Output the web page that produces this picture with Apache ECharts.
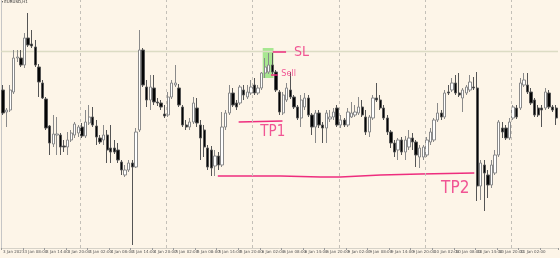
<!DOCTYPE html>
<html><head><meta charset="utf-8">
<script src="https://cdn.jsdelivr.net/npm/echarts@6/dist/echarts.min.js"></script>
<style>html,body{margin:0;padding:0;background:#fdf5e8}#c{width:560px;height:258px}</style>
</head><body><div id="c"></div>
<script>
const tickLabels = ["3 Jan 2023","3 Jan 08:00","3 Jan 14:00","3 Jan 20:00","4 Jan 02:00","4 Jan 08:00","4 Jan 14:00","4 Jan 20:00","5 Jan 02:00","5 Jan 08:00","5 Jan 14:00","5 Jan 20:00","6 Jan 02:00","6 Jan 08:00","6 Jan 14:00","6 Jan 20:00","9 Jan 02:00","9 Jan 08:00","9 Jan 14:00","9 Jan 20:00","10 Jan 02:00","10 Jan 08:00","10 Jan 14:00","10 Jan 20:00","11 Jan 02:00","11 Jan 08:00"];

const openP = [1.0610,1.0588,1.0590,1.0608,1.0642,1.0642,1.0635,1.0662,1.0656,1.0653,
1.0633,1.0617,1.0601,1.0574,1.0556,1.0565,1.0565,1.0554,1.0553,1.0560,
1.0565,1.0567,1.0573,1.0564,1.0577,1.0583,1.0574,1.0562,1.0560,1.0565,
1.0552,1.0552,1.0550,1.0538,1.0525,1.0530,1.0537,1.0533,1.0570,1.0650,
1.0613,1.0600,1.0612,1.0598,1.0597,1.0586,1.0585,1.0603,1.0615,1.0612,
1.0593,1.0575,1.0573,1.0578,1.0592,1.0575,1.0570,1.0552,1.0550,1.0534,
1.0544,1.0535,1.0573,1.0587,1.0607,1.0597,1.0597,1.0610,1.0603,1.0607,
1.0615,1.0607,1.0612,1.0627,1.0628,1.0635,1.0628,1.0608,1.0587,1.0600,
1.0610,1.0603,1.0593,1.0582,1.0593,1.0602,1.0585,1.0573,1.0587,1.0575,
1.0572,1.0581,1.0583,1.0592,1.0575,1.0580,1.0575,1.0583,1.0585,1.0587,
1.0593,1.0583,1.0568,1.0582,1.0602,1.0600,1.0592,1.0582,1.0568,1.0557,
1.0550,1.0560,1.0548,1.0553,1.0562,1.0558,1.0543,1.0543,1.0545,1.0558,
1.0560,1.0580,1.0587,1.0583,1.0608,1.0610,1.0617,1.0607,1.0602,1.0607,
1.0610,1.0613,1.0612,1.0514,1.0535,1.0525,1.0515,1.0527,1.0545,1.0572,
1.0572,1.0562,1.0582,1.0592,1.0592,1.0615,1.0615,1.0608,1.0600,1.0592,
1.0592,1.0592,1.0607,1.0593,1.0592];

const highP = [1.0615,1.0592,1.0615,1.0650,1.0650,1.0650,1.0667,1.0687,1.0670,1.0660,
1.0636,1.0620,1.0603,1.0575,1.0585,1.0583,1.0567,1.0560,1.0568,1.0570,
1.0578,1.0575,1.0577,1.0590,1.0595,1.0593,1.0580,1.0565,1.0575,1.0570,
1.0575,1.0560,1.0557,1.0540,1.0535,1.0540,1.0540,1.0572,1.0670,1.0652,
1.0620,1.0625,1.0625,1.0602,1.0600,1.0595,1.0608,1.0620,1.0635,1.0616,
1.0595,1.0580,1.0582,1.0603,1.0602,1.0580,1.0575,1.0555,1.0554,1.0550,
1.0548,1.0588,1.0590,1.0615,1.0612,1.0600,1.0615,1.0615,1.0615,1.0620,
1.0622,1.0615,1.0628,1.0642,1.0647,1.0647,1.0630,1.0610,1.0608,1.0617,
1.0628,1.0605,1.0595,1.0605,1.0607,1.0605,1.0587,1.0590,1.0590,1.0578,
1.0590,1.0590,1.0592,1.0595,1.0585,1.0582,1.0592,1.0598,1.0595,1.0603,
1.0600,1.0590,1.0585,1.0605,1.0617,1.0605,1.0595,1.0585,1.0570,1.0560,
1.0562,1.0563,1.0564,1.0570,1.0567,1.0560,1.0555,1.0555,1.0563,1.0572,
1.0582,1.0597,1.0590,1.0610,1.0615,1.0622,1.0625,1.0627,1.0612,1.0615,
1.0625,1.0623,1.0628,1.0540,1.0540,1.0530,1.0540,1.0550,1.0580,1.0578,
1.0575,1.0582,1.0595,1.0595,1.0622,1.0627,1.0627,1.0612,1.0602,1.0595,
1.0595,1.0612,1.0610,1.0595,1.0595];

const lowP = [1.0585,1.0573,1.0588,1.0606,1.0638,1.0633,1.0632,1.0653,1.0652,1.0633,
1.0603,1.0601,1.0570,1.0545,1.0553,1.0545,1.0545,1.0548,1.0545,1.0558,
1.0562,1.0563,1.0562,1.0562,1.0575,1.0573,1.0555,1.0556,1.0555,1.0537,
1.0537,1.0546,1.0537,1.0525,1.0523,1.0528,1.0455,1.0532,1.0568,1.0613,
1.0593,1.0590,1.0595,1.0594,1.0590,1.0582,1.0583,1.0601,1.0613,1.0593,
1.0573,1.0570,1.0570,1.0576,1.0573,1.0540,1.0543,1.0530,1.0524,1.0524,
1.0530,1.0533,1.0570,1.0585,1.0593,1.0590,1.0595,1.0600,1.0601,1.0605,
1.0605,1.0605,1.0610,1.0622,1.0626,1.0626,1.0608,1.0585,1.0585,1.0598,
1.0601,1.0591,1.0580,1.0573,1.0590,1.0583,1.0565,1.0557,1.0572,1.0557,
1.0557,1.0578,1.0580,1.0573,1.0572,1.0573,1.0573,1.0582,1.0583,1.0585,
1.0583,1.0565,1.0563,1.0580,1.0598,1.0590,1.0580,1.0565,1.0552,1.0543,
1.0540,1.0545,1.0540,1.0550,1.0550,1.0533,1.0532,1.0540,1.0543,1.0555,
1.0558,1.0578,1.0580,1.0581,1.0605,1.0608,1.0605,1.0603,1.0588,1.0605,
1.0608,1.0610,1.0499,1.0500,1.0489,1.0502,1.0512,1.0525,1.0543,1.0562,
1.0560,1.0560,1.0580,1.0581,1.0590,1.0613,1.0606,1.0595,1.0583,1.0583,
1.0573,1.0590,1.0591,1.0588,1.0575];

const closeP = [1.0587,1.0590,1.0610,1.0642,1.0643,1.0635,1.0662,1.0655,1.0654,1.0635,
1.0618,1.0602,1.0572,1.0557,1.0566,1.0566,1.0553,1.0553,1.0560,1.0567,
1.0576,1.0573,1.0564,1.0578,1.0583,1.0575,1.0563,1.0558,1.0565,1.0550,
1.0548,1.0548,1.0540,1.0530,1.0530,1.0537,1.0533,1.0568,1.0650,1.0615,
1.0600,1.0613,1.0598,1.0597,1.0593,1.0584,1.0603,1.0617,1.0617,1.0595,
1.0575,1.0573,1.0578,1.0597,1.0577,1.0562,1.0553,1.0533,1.0532,1.0544,
1.0535,1.0573,1.0587,1.0607,1.0595,1.0593,1.0613,1.0605,1.0608,1.0613,
1.0607,1.0612,1.0627,1.0633,1.0635,1.0628,1.0610,1.0588,1.0605,1.0612,
1.0603,1.0593,1.0582,1.0600,1.0602,1.0585,1.0573,1.0587,1.0575,1.0572,
1.0587,1.0583,1.0588,1.0575,1.0580,1.0575,1.0588,1.0587,1.0588,1.0593,
1.0585,1.0568,1.0583,1.0602,1.0600,1.0592,1.0582,1.0568,1.0557,1.0548,
1.0560,1.0548,1.0560,1.0562,1.0558,1.0545,1.0552,1.0553,1.0560,1.0568,
1.0580,1.0587,1.0583,1.0607,1.0607,1.0617,1.0607,1.0605,1.0610,1.0613,
1.0618,1.0612,1.0514,1.0537,1.0527,1.0515,1.0535,1.0545,1.0578,1.0568,
1.0562,1.0578,1.0593,1.0583,1.0617,1.0620,1.0608,1.0597,1.0585,1.0585,
1.0590,1.0608,1.0593,1.0590,1.0582];

// day separators (boundaries, in candle units) and reference price line
const separators = [22, 46, 70, 94, 118, 142];
const bidPrice = 1.06485;

// hand-drawn annotations, in (candle units, price)
const slLine = [[75.6, 1.0648], [79.3, 1.0648]];
const sellLine = [[75.1, 1.0625], [77.0, 1.0625]];
const tp1Line = [[66.1, 1.0578], [78.3, 1.0579]];
const tp2Line = [[60.3, 1.0524], [77.8, 1.0524], [88.9, 1.0523], [94.4, 1.0523], [105.6, 1.0525], [116.7, 1.0526], [131.7, 1.0527]];
const entryBox = [[72.8, 1.0652], [75.8, 1.0622]];
const notes = [
  {text: 'SL', at: [83.6, 1.0648], size: 14},
  {text: 'Sell', at: [80.0, 1.0626], size: 9},
  {text: 'TP1', at: [75.6, 1.0568], size: 15},
  {text: 'TP2', at: [126.4, 1.0511], size: 17}
];

const N = openP.length;
const categories = openP.map((_, i) => String(i));
const candles = openP.map((o, i) => [o, closeP[i], lowP[i], highP[i]]);
const PINK = '#ee2d7e';
const HAND = 'Liberation Sans Narrow, DejaVu Sans Condensed, sans-serif';

const chart = echarts.init(document.getElementById('c'), null, {renderer: 'canvas'});
chart.setOption({
  backgroundColor: '#fdf5e8',
  animation: false,
  grid: {left: 0, right: 2, top: 0, bottom: 10},
  xAxis: [{
    type: 'category', data: categories, boundaryGap: true,
    axisLine: {show: true, lineStyle: {color: '#d6d2c8'}},
    axisTick: {show: true, interval: 5, length: 2, lineStyle: {color: '#9a9a9a'}},
    axisLabel: {interval: 5, fontSize: 4, color: '#555', align: 'left', margin: 2,
      fontFamily: 'DejaVu Sans',
      formatter: (v, idx) => tickLabels[Math.round(idx / 6)] || ''},
    splitLine: {show: false}
  }, {
    type: 'value', min: 0, max: N, show: false
  }],
  yAxis: {
    type: 'value', min: 1.0452, max: 1.0700, position: 'right',
    axisLine: {show: true, lineStyle: {color: '#c6c6c6'}},
    axisLabel: {show: false}, axisTick: {show: false}, splitLine: {show: false}
  },
  graphic: [{type: 'text', left: 1, top: 0,
    style: {text: '\u25BE EURUSD,H1', fontSize: 4, fill: '#333', fontFamily: 'DejaVu Sans'}}],
  series: [
    {
      type: 'line', xAxisIndex: 1, data: [[0, bidPrice], [N, bidPrice]], showSymbol: false, z: 1,
      lineStyle: {color: '#dcdcc4', width: 1.5}
    },
    {
      type: 'line', xAxisIndex: 1, data: tp1Line, showSymbol: false, z: 1,
      lineStyle: {color: PINK, width: 1.5},
      markLine: {
        silent: true, symbol: ['none', 'none'], label: {show: false},
        lineStyle: {color: '#c4c0b8', type: [3, 3], width: 1},
        data: separators.map(v => ({xAxis: v}))
      },
      markArea: {
        silent: true,
        itemStyle: {color: 'rgba(112,222,86,0.6)'},
        data: [[{xAxis: entryBox[0][0], yAxis: entryBox[0][1]}, {xAxis: entryBox[1][0], yAxis: entryBox[1][1]}]]
      }
    },
    {
      type: 'candlestick', xAxisIndex: 0, data: candles, barWidth: 2.8, z: 3,
      itemStyle: {color: '#ffffff', color0: '#050505', borderColor: '#8a8a8a', borderColor0: '#555555', borderWidth: 1}
    },
    {type: 'line', xAxisIndex: 1, data: tp2Line, showSymbol: false, z: 4, lineStyle: {color: PINK, width: 1.5}},
    {type: 'line', xAxisIndex: 1, data: slLine, showSymbol: false, z: 4, lineStyle: {color: PINK, width: 1.5}},
    {type: 'line', xAxisIndex: 1, data: sellLine, showSymbol: false, z: 4, lineStyle: {color: PINK, width: 1.5}},
    {
      type: 'scatter', xAxisIndex: 1, symbolSize: 0, z: 5,
      data: notes.map(n => ({value: n.at, name: n.text,
        label: {show: true, position: 'inside', formatter: n.text, fontSize: n.size, color: PINK, fontFamily: HAND}}))
    }
  ]
});
</script></body></html>
